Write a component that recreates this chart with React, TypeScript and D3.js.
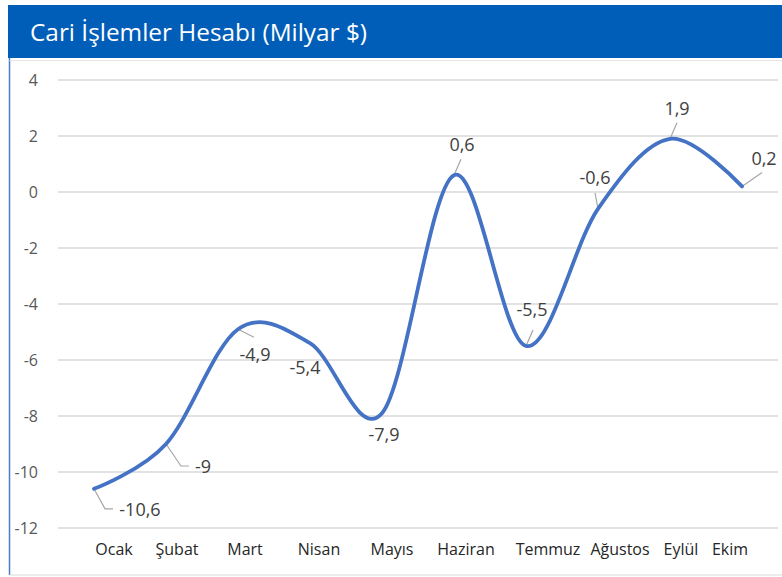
import React from "react";
import * as d3 from "d3";

const categories = ["Ocak", "Şubat", "Mart", "Nisan", "Mayıs", "Haziran", "Temmuz", "Ağustos", "Eylül", "Ekim"];
const values = [-10.6, -9, -4.9, -5.4, -7.9, 0.6, -5.5, -0.6, 1.9, 0.2];
const yTicks = [4, 2, 0, -2, -4, -6, -8, -10, -12];
const title = "Cari İşlemler Hesabı (Milyar $)";

// label layout: offset of label center from point, and whether a leader line is drawn
const labelOffsets: [number, number, boolean][] = [
  [46, 20, true],
  [37, 22, true],
  [17, 25, true],
  [-5, 24, false],
  [2, 21, false],
  [8, -31, true],
  [6, -37, true],
  [-3, -32, true],
  [7, -31, true],
  [22, -28, true],
];
// horizontal shift of category labels relative to band centers (layout)
const xLabelShift = [20, 11, 7, 9, 10, 12, 22, 22, 11, -12];

const W = 782;
const H = 577;
const FONT = "'Open Sans', sans-serif";

export default function App() {
  const x = d3.scaleBand<string>().domain(categories).range([58, 778]).paddingInner(0).paddingOuter(0);
  const y = d3.scaleLinear().domain([-12, 4]).range([528, 80]);
  const cx = (c: string) => (x(c) ?? 0) + x.bandwidth() / 2;

  const pts: [number, number][] = categories.map((c, i) => [cx(c), y(values[i])]);
  const line = d3.line().curve(d3.curveCardinal.tension(0))(pts) ?? "";

  const fmt = (v: number) => String(v).replace(".", ",");

  const leaders = pts.map((p, i) => {
    const [dx, dy, has] = labelOffsets[i];
    if (!has) return null;
    const lx = p[0] + dx;
    const ly = p[1] + dy;
    if (i === 0 || i === 1) {
      const textHalf = i === 0 ? 21 : 8;
      const endX = lx - textHalf - 6;
      const bendX = endX - 8;
      return `M${p[0]},${p[1]}L${bendX},${ly}L${endX},${ly}`;
    }
    if (i === 2) return `M${p[0]},${p[1]}L${p[0] + 16},${p[1] + 8}`;
    if (i === 9) return `M${p[0]},${p[1]}L${p[0] + 20},${p[1] - 14}`;
    if (i === 7) return `M${p[0]},${p[1]}L${p[0] - 3},${p[1] - 16}`;
    return `M${p[0]},${p[1]}L${p[0] + 7},${p[1] - 16}`;
  });

  return (
    <svg
      width={W}
      height={H}
      style={{ position: "absolute", left: 0, top: 0, background: "#fff" }}
      fontFamily={FONT}
    >
      <rect x={9.5} y={58} width={W - 9.5} height={516.5} fill="#fff" stroke="none" />
      <line x1={9.5} x2={9.5} y1={58} y2={575} stroke="#4a7cc7" strokeWidth={1.5} />
      <line x1={9.5} x2={W} y1={575} y2={575} stroke="#d9d9d9" strokeWidth={1} />
      <line x1={9.5} x2={W} y1={60.5} y2={60.5} stroke="#e6e6e6" strokeWidth={1} />
      <rect x={8} y={5} width={W - 8} height={53} fill="#005EB8" />
      <text x={30} y={31} dominantBaseline="central" fill="#fff" fontSize={24} fontWeight={500} textLength={337} lengthAdjust="spacingAndGlyphs">
        {title}
      </text>

      {yTicks.map((t) => (
        <line key={t} x1={58} x2={778} y1={y(t)} y2={y(t)} stroke="#d9d9d9" strokeWidth={1.5} />
      ))}
      {yTicks.map((t) => (
        <text key={"l" + t} x={38} y={y(t)} textAnchor="end" dominantBaseline="central" fontSize={16} fill="#595959">
          {t}
        </text>
      ))}
      {categories.map((c, i) => (
        <text key={c} x={cx(c) + xLabelShift[i]} y={549} textAnchor="middle" dominantBaseline="central" fontSize={16} fill="#262626">
          {c}
        </text>
      ))}

      {leaders.map((d, i) => (d ? <path key={"ld" + i} d={d} fill="none" stroke="#a6a6a6" strokeWidth={1.2} /> : null))}

      <path d={line} fill="none" stroke="#4472C4" strokeWidth={3.8} strokeLinejoin="round" strokeLinecap="round" />

      {pts.map((p, i) => (
        <text
          key={"dl" + i}
          x={p[0] + labelOffsets[i][0]}
          y={p[1] + labelOffsets[i][1]}
          textAnchor="middle"
          dominantBaseline="central"
          fontSize={18}
          fill="#404040"
        >
          {fmt(values[i])}
        </text>
      ))}
    </svg>
  );
}
